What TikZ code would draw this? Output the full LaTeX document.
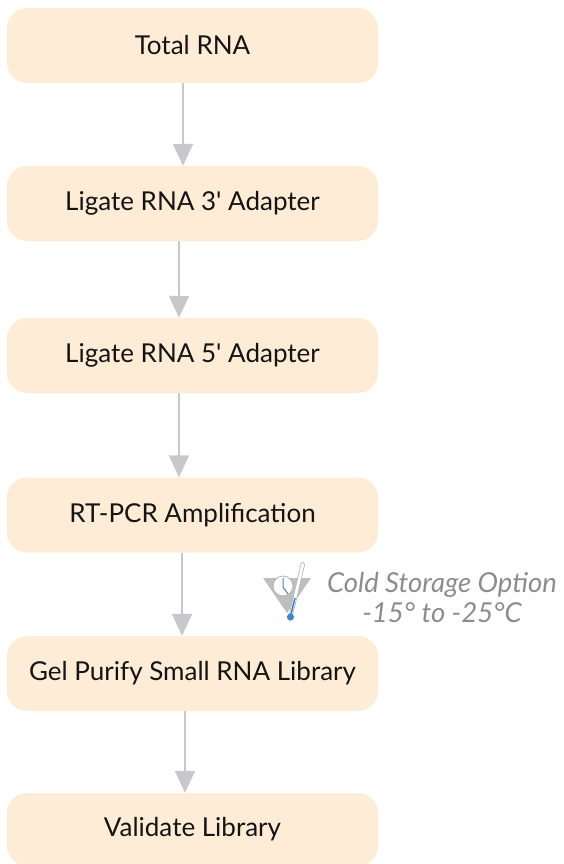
\documentclass[tikz,border=0pt]{standalone}
\usepackage{fontspec}
\setmainfont{Lato}
\usetikzlibrary{arrows.meta}
\definecolor{peach}{RGB}{254,236,214}
\definecolor{flowgray}{RGB}{200,200,204}
\definecolor{icegray}{RGB}{190,190,192}
\definecolor{thermoblue}{RGB}{64,134,200}
\tikzset{
	stepbox/.style={rectangle, rounded corners=20pt, fill=peach, minimum width=371pt, minimum height=75pt, inner sep=0pt, font=\fontsize{26}{30}\selectfont, text=black!92},
	flow/.style={draw=flowgray, line width=2pt, -{Triangle[width=20pt, length=22pt]}},
}

\begin{document}
\begin{tikzpicture}[x=1pt, y=-1pt]
		%%%%% START %%%%%
		
		\useasboundingbox (0, 0) rectangle (563, 864);
		
		\node[stepbox] (total) at (192.5, 45.5) {Total RNA};
		\node[stepbox] (lig3) at (192.5, 203.5) {Ligate RNA 3\textquotesingle{} Adapter};
		\node[stepbox] (lig5) at (192.5, 355.5) {Ligate RNA 5\textquotesingle{} Adapter};
		\node[stepbox] (rtpcr) at (192.5, 515) {RT-PCR Amplification};
		\node[stepbox] (gel) at (192.5, 673.5) {Gel Purify Small RNA Library};
		\node[stepbox, minimum height=73pt] (valid) at (192.5, 829.5) {Validate Library};
		
		\draw[flow] ([xshift=-9.5pt]total.south) -- ([xshift=-9.5pt]lig3.north);
		\draw[flow] ([xshift=-13.5pt]lig3.south) -- ([xshift=-13.5pt]lig5.north);
		\draw[flow] ([xshift=-13.5pt]lig5.south) -- ([xshift=-13.5pt]rtpcr.north);
		\draw[flow] ([xshift=-10.5pt]rtpcr.south) -- ([xshift=-10.5pt]gel.north);
		\draw[flow] ([xshift=-7.5pt]gel.south) -- ([xshift=-7.5pt]valid.north);
		
		% cold storage
		\fill[icegray] (263, 578) -- (311, 578) -- (287, 613) -- cycle;
		\draw[gray!60, fill=white, line width=0.8pt] (283, 586) circle (10);
		\draw[thermoblue, line width=1pt] (283, 578) -- (283, 587) -- (288, 594);
		\draw[gray!55, fill=white, line width=0.7pt, rounded corners=1.5pt] (301.5, 562) -- (305, 563) -- (293, 614) -- (289.5, 613) -- cycle;
		\draw[thermoblue, line width=1.6pt] (295, 598) -- (291, 614);
		\fill[thermoblue] (290.5, 617) circle (3.6);
		
		\node[font=\fontsize{27.5}{30}\selectfont\itshape, text=black!45, align=center] (cold) at (442, 597) {Cold Storage Option\\-15° to -25°C};
		
		%%%%% END %%%%%
	\end{tikzpicture}
\end{document}
